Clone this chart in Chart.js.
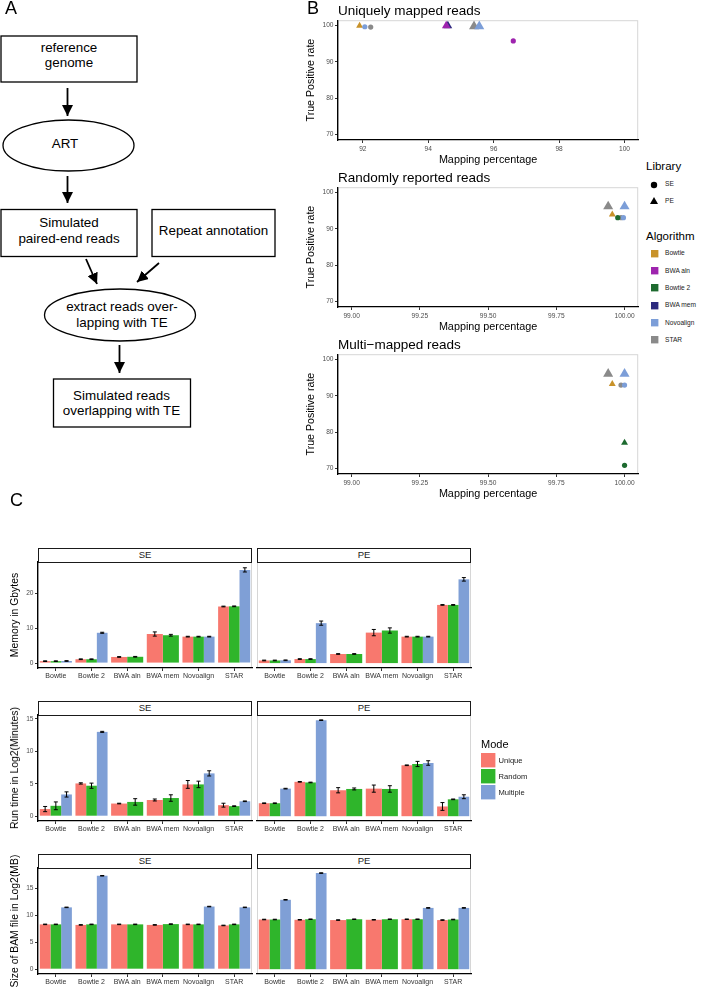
<!DOCTYPE html>
<html lang="en">
<head>
<meta charset="UTF-8" />
<title>TE read mapping benchmark</title>
<script src="https://cdn.jsdelivr.net/npm/chart.js"></script>
<style>
body { margin: 0; background: #fff; }
#fig { position: relative; width: 702px; height: 988px; overflow: hidden; font-family: "Liberation Sans", Arial, sans-serif; color: #000; }
#fig canvas, #fig svg, .txt, .strip, .key, .vtitle { position: absolute; }
.txt { white-space: nowrap; }
.vtitle { white-space: nowrap; transform: translate(-50%, -50%) rotate(-90deg); font-size: 10.4px; line-height: 12px; }
.strip { box-sizing: border-box; border: 1.3px solid #1a1a1a; background: #fff; text-align: center; font-size: 9.5px; line-height: 12px; color: #1a1a1a; }
</style>
</head>
<body>
<div id="fig">
<svg style="left:0;top:0" width="300" height="440">
  <defs>
    <marker id="ah" viewBox="0 0 10 10" refX="10" refY="5" markerWidth="11" markerHeight="11" markerUnits="userSpaceOnUse" orient="auto">
      <path d="M0,0 L10,5 L0,10 z" fill="#000" />
    </marker>
  </defs>
  <g fill="none" stroke="#000" stroke-width="1.3">
    <rect x="1" y="36" width="136" height="46" />
    <ellipse cx="68.5" cy="145.5" rx="65.5" ry="25.5" />
    <rect x="1" y="209.5" width="136" height="47" />
    <rect x="152" y="209.5" width="123" height="47" />
    <ellipse cx="120" cy="315" rx="75.5" ry="26" />
    <rect x="53.5" y="379" width="137" height="48" />
  </g>
  <g stroke="#000" stroke-width="1.8" marker-end="url(#ah)">
    <line x1="67.5" y1="88" x2="67.5" y2="116" />
    <line x1="67.5" y1="176" x2="67.5" y2="203" />
    <line x1="86" y1="259" x2="97" y2="284" />
    <line x1="159" y1="263" x2="137" y2="282" />
    <line x1="119.5" y1="345" x2="119.5" y2="373" />
  </g>
  <g font-family="Liberation Sans, Arial, sans-serif" font-size="13.4" text-anchor="middle" fill="#000">
    <text x="69" y="51.8">reference</text>
    <text x="69" y="67.3">genome</text>
    <text x="65" y="147.5">ART</text>
    <text x="69" y="226.8">Simulated</text>
    <text x="69" y="242.8">paired-end reads</text>
    <text x="213.5" y="235.3">Repeat annotation</text>
    <text x="122" y="311.3">extract reads over-</text>
    <text x="122" y="327.3">lapping with TE</text>
    <text x="121.5" y="399.5">Simulated reads</text>
    <text x="121.5" y="415">overlapping with TE</text>
  </g>
</svg>
</div>
<script>
// ---- panel B: mapping percentage (x) vs true positive rate (y), one value per aligner
const algorithms = ["Bowtie", "BWA aln", "Bowtie 2", "BWA mem", "Novoalign", "STAR"];
const uniqueSEpct = [null, 96.6, null, null, 92.06, 92.24];
const uniqueSEtpr = [null, 95.8, null, null, 99.7, 99.6];
const uniquePEpct = [91.9, 94.55, null, 94.6, 95.56, 95.4];
const uniquePEtpr = [100, 100, null, 100, 99.8, 99.8];
const randomSEpct = [null, null, 99.975, null, 99.996, 99.987];
const randomSEtpr = [null, null, 93.1, null, 93.1, 93.1];
const randomPEpct = [99.955, null, null, null, 100, 99.94];
const randomPEtpr = [94.0, null, null, null, 96.2, 96.2];
const multiSEpct = [null, null, 100, null, 100, 99.987];
const multiSEtpr = [null, null, 70.9, null, 93.0, 93.0];
const multiPEpct = [99.955, null, 100, null, 100, 99.94];
const multiPEtpr = [93.3, null, 77.1, null, 96.1, 96.1];

// ---- panel C: tools x mode, mean and error
const tools = ["Bowtie", "Bowtie 2", "BWA aln", "BWA mem", "Novoalign", "STAR"];
const modes = ["Unique", "Random", "Multiple"];

const memSEunique = [0.55, 1.1, 1.75, 8.3, 7.55, 16.15];
const memSErandom = [0.55, 1.1, 1.8, 7.95, 7.55, 16.2];
const memSEmultiple = [0.6, 8.65, null, null, 7.55, 26.6];
const memSEuniqueErr = [0.1, 0.1, 0.1, 0.6, 0.1, 0.1];
const memSErandomErr = [0.1, 0.1, 0.1, 0.25, 0.1, 0.1];
const memSEmultipleErr = [0.1, 0.15, null, null, 0.1, 0.6];
const memPEunique = [0.75, 1.15, 2.6, 8.7, 7.55, 16.6];
const memPErandom = [0.75, 1.15, 2.6, 9.3, 7.55, 16.6];
const memPEmultiple = [0.8, 11.4, null, null, 7.55, 23.9];
const memPEuniqueErr = [0.1, 0.1, 0.1, 0.9, 0.1, 0.1];
const memPErandomErr = [0.1, 0.1, 0.1, 0.75, 0.1, 0.1];
const memPEmultipleErr = [0.1, 0.6, null, null, 0.1, 0.5];

const timeSEunique = [1.1, 5.05, 1.95, 2.5, 4.9, 1.7];
const timeSErandom = [1.6, 4.7, 2.2, 2.8, 4.9, 1.55];
const timeSEmultiple = [3.35, 13.0, null, null, 6.6, 2.3];
const timeSEuniqueErr = [0.4, 0.1, 0.05, 0.15, 0.6, 0.3];
const timeSErandomErr = [0.6, 0.4, 0.5, 0.5, 0.5, 0.05];
const timeSEmultipleErr = [0.4, 0.08, null, null, 0.4, 0.05];
const timePEunique = [2.0, 5.3, 4.0, 4.25, 7.85, 1.5];
const timePErandom = [2.0, 5.2, 4.2, 4.2, 8.05, 2.6];
const timePEmultiple = [4.25, 14.8, null, null, 8.2, 3.0];
const timePEuniqueErr = [0.05, 0.05, 0.4, 0.55, 0.05, 0.6];
const timePErandomErr = [0.05, 0.05, 0.15, 0.5, 0.4, 0.05];
const timePEmultipleErr = [0.05, 0.05, null, null, 0.35, 0.3];

const bamSEunique = [8.3, 8.2, 8.3, 8.2, 8.3, 8.1];
const bamSErandom = [8.3, 8.3, 8.3, 8.35, 8.3, 8.3];
const bamSEmultiple = [11.45, 17.3, null, null, 11.6, 11.45];
const bamSEuniqueErr = [0.05, 0.05, 0.05, 0.05, 0.05, 0.05];
const bamSErandomErr = [0.05, 0.05, 0.05, 0.05, 0.05, 0.05];
const bamSEmultipleErr = [0.05, 0.05, null, null, 0.05, 0.05];
const bamPEunique = [9.2, 9.15, 9.1, 9.15, 9.25, 9.1];
const bamPErandom = [9.2, 9.25, 9.25, 9.25, 9.25, 9.2];
const bamPEmultiple = [12.85, 17.8, null, null, 11.35, 11.35];
const bamPEuniqueErr = [0.05, 0.05, 0.05, 0.05, 0.05, 0.05];
const bamPErandomErr = [0.05, 0.05, 0.05, 0.05, 0.05, 0.05];
const bamPEmultipleErr = [0.05, 0.05, null, null, 0.05, 0.05];

// styles
const algoColors = ["#C8922A", "#9E24AE", "#1D6A2F", "#2C2A7E", "#7C9ED8", "#8A8A8A"];
const triRadius = [4, 5, 4, 5, 5.8, 5.8];
const modeColors = ["#F8786E", "#2FB52B", "#7F9FD6"];
const FONT = '"Liberation Sans", Arial, sans-serif';

Chart.defaults.font.family = FONT;
Chart.defaults.animation = false;
Chart.defaults.color = "#4d4d4d";

const fig = document.getElementById("fig");

function addCanvas(left, top, w, h) {
  const c = document.createElement("canvas");
  c.width = w; c.height = h;
  c.style.left = left + "px"; c.style.top = top + "px";
  c.style.width = w + "px"; c.style.height = h + "px";
  fig.appendChild(c);
  return c;
}

function addText(txt, left, cy, size, color) {
  const d = document.createElement("div");
  d.className = "txt";
  d.textContent = txt;
  d.style.left = left + "px";
  d.style.top = (cy - size * 0.6) + "px";
  d.style.fontSize = size + "px";
  d.style.lineHeight = (size * 1.2) + "px";
  d.style.color = color || "#000";
  fig.appendChild(d);
}

function addKey(html, left, top, w, h) {
  const s = document.createElementNS("http://www.w3.org/2000/svg", "svg");
  s.setAttribute("width", w); s.setAttribute("height", h);
  s.style.left = left + "px"; s.style.top = top + "px";
  s.innerHTML = html;
  fig.appendChild(s);
}

// only keep round ticks inside the axis range
function keepSteps(step) {
  return s => {
    s.ticks = s.ticks.filter(t => t.value >= s.min && t.value <= s.max &&
      Math.abs(t.value / step - Math.round(t.value / step)) < 1e-6);
  };
}

// light grey panel border under everything
const frame = {
  id: "frame",
  beforeDraw(chart) {
    const a = chart.chartArea, ctx = chart.ctx;
    ctx.save();
    ctx.strokeStyle = "#d6d6d6";
    ctx.lineWidth = 1;
    ctx.strokeRect(a.left + 0.5, a.top + 0.5, a.right - a.left - 1, a.bottom - a.top - 1);
    ctx.restore();
  }
};

// mean +/- error whiskers on each bar
const errorBars = {
  id: "errorBars",
  afterDatasetsDraw(chart) {
    const ctx = chart.ctx, y = chart.scales.y;
    ctx.save();
    ctx.strokeStyle = "#000";
    ctx.lineWidth = 1;
    chart.data.datasets.forEach((ds, i) => {
      chart.getDatasetMeta(i).data.forEach((bar, j) => {
        const v = ds.data[j], e = ds.errors[j];
        if (v == null || e == null) return;
        const t = y.getPixelForValue(v + e), b = y.getPixelForValue(v - e);
        ctx.beginPath();
        ctx.moveTo(bar.x, t); ctx.lineTo(bar.x, b);
        ctx.moveTo(bar.x - 2, t); ctx.lineTo(bar.x + 2, t);
        ctx.moveTo(bar.x - 2, b); ctx.lineTo(bar.x + 2, b);
        ctx.stroke();
      });
    });
    ctx.restore();
  }
};

// ---------- panel B ----------
function scatterPanel(title, se, pe, xr, plotTop) {
  const datasets = [];
  algorithms.forEach((a, i) => {
    if (se[0][i] == null) return;
    datasets.push({ label: a + " SE", data: [{ x: se[0][i], y: se[1][i] }],
      pointStyle: "circle", pointRadius: 2.6, pointBackgroundColor: algoColors[i], pointBorderWidth: 0, showLine: false });
  });
  algorithms.forEach((a, i) => {
    if (pe[0][i] == null) return;
    datasets.push({ label: a + " PE", data: [{ x: pe[0][i], y: pe[1][i] }],
      pointStyle: "triangle", pointRadius: triRadius[i], pointBackgroundColor: algoColors[i], pointBorderWidth: 0, showLine: false });
  });
  const titleBox = 13.5 * 1.2 + 1;
  const plotH = 119, xH = 28, yW = 38;
  const c = addCanvas(300, plotTop - titleBox, yW + 302 + 4, Math.ceil(titleBox + plotH + xH));
  new Chart(c, {
    type: "scatter",
    data: { datasets },
    plugins: [frame],
    options: {
      responsive: false,
      devicePixelRatio: 1,
      layout: { padding: { left: 0, top: 0, right: 4, bottom: 0 } },
      plugins: {
        legend: { display: false },
        tooltip: { enabled: false },
        title: { display: true, text: title, align: "start", fullSize: false, color: "#000",
          font: { size: 13.5, weight: "normal" }, padding: { top: 0, bottom: 1 } }
      },
      scales: {
        x: {
          type: "linear", min: xr[0], max: xr[1],
          afterBuildTicks: keepSteps(xr[2]),
          afterFit: s => { s.height = xH; },
          ticks: { stepSize: xr[2], includeBounds: false, font: { size: 6.6 }, color: "#4d4d4d", padding: 2, maxRotation: 0,
            callback: v => v.toFixed(xr[3]) },
          grid: { display: true, drawOnChartArea: false, tickLength: 3, color: "#333" },
          border: { color: "#000", width: 1.3 },
          title: { display: true, text: "Mapping percentage", color: "#000", font: { size: 10.8 },
            padding: { top: 0, bottom: 1 } }
        },
        y: {
          min: 68.5, max: 101.5,
          afterBuildTicks: keepSteps(10),
          afterFit: s => { s.width = yW; },
          ticks: { stepSize: 10, includeBounds: false, font: { size: 6.6 }, color: "#4d4d4d", padding: 1.5 },
          grid: { display: true, drawOnChartArea: false, tickLength: 3, color: "#333" },
          border: { color: "#000", width: 1.3 },
          title: { display: true, text: "True Positive rate", color: "#000", font: { size: 10.6 },
            padding: { top: 5, bottom: 0 } }
        }
      }
    }
  });
}

scatterPanel("Uniquely mapped reads", [uniqueSEpct, uniqueSEtpr], [uniquePEpct, uniquePEtpr], [91.24, 100.42, 2, 0], 20);
scatterPanel("Randomly reported reads", [randomSEpct, randomSEtpr], [randomPEpct, randomPEtpr], [98.95, 100.05, 0.25, 2], 187);
scatterPanel("Multi\u2212mapped reads", [multiSEpct, multiSEtpr], [multiPEpct, multiPEtpr], [98.95, 100.05, 0.25, 2], 354);

// legend for panel B
addText("Library", 646, 166.7, 11.5);
addKey('<circle cx="4" cy="4" r="3.2" fill="#000"/>', 649.5, 180.5, 8, 8);
addText("SE", 665, 184.3, 6.6, "#1a1a1a");
addKey('<polygon points="4,0 8,7 0,7" fill="#000"/>', 649.5, 197, 8, 8);
addText("PE", 665, 200.7, 6.6, "#1a1a1a");
addText("Algorithm", 646, 236.7, 11.5);
algorithms.forEach((a, i) => {
  const cy = 253.3 + i * 17.3;
  addKey('<rect x="0" y="0" width="7.4" height="7.4" fill="' + algoColors[i] + '"/>', 650.5, cy - 3.7, 8, 8);
  addText(a, 665, cy, 6.6, "#1a1a1a");
});

// ---------- panel C ----------
const rowTitles = ["Memory in Gbytes", "Run time in Log2(Minutes)", "Size of BAM file in Log2(MB)"];
const rowLimits = [[-1.4, 28.85], [-0.74, 15.6], [-0.89, 18.74]];
const rowSteps = [10, 5, 5];
const rowData = [
  { SE: [[memSEunique, memSErandom, memSEmultiple], [memSEuniqueErr, memSErandomErr, memSEmultipleErr]],
    PE: [[memPEunique, memPErandom, memPEmultiple], [memPEuniqueErr, memPErandomErr, memPEmultipleErr]] },
  { SE: [[timeSEunique, timeSErandom, timeSEmultiple], [timeSEuniqueErr, timeSErandomErr, timeSEmultipleErr]],
    PE: [[timePEunique, timePErandom, timePEmultiple], [timePEuniqueErr, timePErandomErr, timePEmultipleErr]] },
  { SE: [[bamSEunique, bamSErandom, bamSEmultiple], [bamSEuniqueErr, bamSErandomErr, bamSEmultipleErr]],
    PE: [[bamPEunique, bamPErandom, bamPEmultiple], [bamPEuniqueErr, bamPErandomErr, bamPEmultipleErr]] }
];

function barPanel(row, lib) {
  const plotTop = 562 + 153 * row, plotH = 106, plotW = 214;
  const isSE = lib === "SE";
  const plotLeft = isSE ? 38 : 257;
  const yW = isSE ? 38 : 0, padL = isSE ? 0 : 3, padT = 6, xH = 16;
  const [vals, errs] = rowData[row][lib];
  const c = addCanvas(plotLeft - yW - padL, plotTop - padT, yW + padL + plotW + 3, padT + plotH + xH);
  new Chart(c, {
    type: "bar",
    data: {
      labels: tools,
      datasets: modes.map((m, k) => ({
        label: m, data: vals[k], errors: errs[k], backgroundColor: modeColors[k],
        skipNull: true, categoryPercentage: 0.9, barPercentage: 1, borderWidth: 0
      }))
    },
    plugins: [frame, errorBars],
    options: {
      responsive: false,
      devicePixelRatio: 1,
      skipNull: true,
      layout: { padding: { left: padL, top: padT, right: 3, bottom: 0 } },
      plugins: { legend: { display: false }, tooltip: { enabled: false } },
      scales: {
        x: {
          afterFit: s => { s.height = xH; },
          ticks: { font: { size: 7 }, color: "#333", padding: 1, autoSkip: false, maxRotation: 0, minRotation: 0 },
          grid: { display: true, offset: false, drawOnChartArea: false, tickLength: 3, color: "#333" },
          border: { color: "#000", width: 1.3 }
        },
        y: {
          display: isSE,
          min: rowLimits[row][0], max: rowLimits[row][1],
          afterBuildTicks: keepSteps(rowSteps[row]),
          afterFit: s => { s.width = yW; },
          ticks: { stepSize: rowSteps[row], includeBounds: false, font: { size: 6.6 }, color: "#4d4d4d", padding: 1.5 },
          grid: { display: true, drawOnChartArea: false, tickLength: 3, color: "#333" },
          border: { color: "#000", width: 1.3 }
        }
      }
    }
  });
  const st = document.createElement("div");
  st.className = "strip";
  st.textContent = lib;
  st.style.left = plotLeft + "px";
  st.style.top = (plotTop - 14.5) + "px";
  st.style.width = plotW + "px";
  st.style.height = "15px";
  fig.appendChild(st);
  if (isSE) {
    const t = document.createElement("div");
    t.className = "vtitle";
    t.textContent = rowTitles[row];
    t.style.left = "15px";
    t.style.top = (plotTop + plotH / 2) + "px";
    fig.appendChild(t);
  }
}

for (let r = 0; r < 3; r++) { barPanel(r, "SE"); barPanel(r, "PE"); }

// legend for panel C
addText("Mode", 481, 745, 11);
modes.forEach((m, k) => {
  const top = 753.3 + k * 16;
  addKey('<rect x="0" y="0" width="14.4" height="14.4" fill="' + modeColors[k] + '"/>', 481, top, 15, 15);
  addText(m, 498.5, top + 7.2, 7.6, "#1a1a1a");
});

// panel letters
addText("A", 5, 9, 18);
addText("B", 307, 8.5, 18);
addText("C", 10, 500.5, 18);
</script>
</body>
</html>
